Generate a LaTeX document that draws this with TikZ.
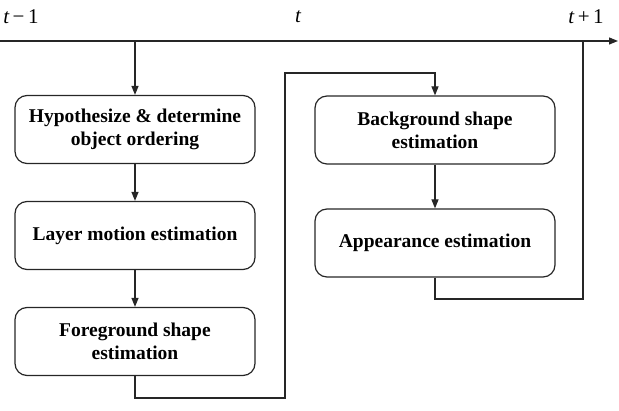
\documentclass[tikz,border=0pt]{standalone}
\usepackage{fontspec}
\setmainfont{Liberation Serif}
\usetikzlibrary{arrows.meta}
\begin{document}
\begin{tikzpicture}[x=1pt,y=-1pt,
  box/.style={draw=black!85, line width=1.2pt, rounded corners=12pt, minimum width=240pt, minimum height=68pt,
    inner sep=0pt, align=center, font=\fontsize{19.5}{23}\selectfont\bfseries},
  conn/.style={draw=black!85, line width=1.2pt},
  arr/.style={conn, -{Triangle[length=9pt,width=7pt]}},
  tlabel/.style={font=\fontsize{21}{24}\selectfont, inner sep=0pt}]
\useasboundingbox (0,0) rectangle (619,411);
\node[box] (b1) at (135,129.5) {Hypothesize \& determine\\object ordering};
\node[box] (b2) at (135,235.5) {Layer motion estimation};
\node[box] (b3) at (135,341.5) {Foreground shape\\estimation};
\node[box] (b4) at (435,130) {Background shape\\estimation};
\node[box] (b5) at (435,243) {Appearance estimation};
\coordinate (tl) at (0,41);
\coordinate (tr) at (618,41);
\coordinate (d) at (135,41);
\coordinate (c1) at (285,398);
\coordinate (c2) at (285,73);
\coordinate (c3) at (583,299);
\coordinate (c4) at (583,41);
\coordinate (c5) at (563,41);
\node[tlabel] (l1) at (21,17) {\itshape t\,\upshape−\,1};
\node[tlabel] (l2) at (298,17) {\itshape t};
\node[tlabel] (l3) at (586,17) {\itshape t\,\upshape+\,1};
\draw[arr] (tl) -- (tr);
\draw[arr] (d) -- (b1.north);
\draw[arr] (b1) -- (b2);
\draw[arr] (b2) -- (b3);
\draw[arr] (b3.south) |- (c1) -- (c2) -| (b4.north);
\draw[arr] (b4) -- (b5);
\draw[conn] (b5.south) |- (c3) -- (c4) -- (c5);
\end{tikzpicture}
\end{document}
